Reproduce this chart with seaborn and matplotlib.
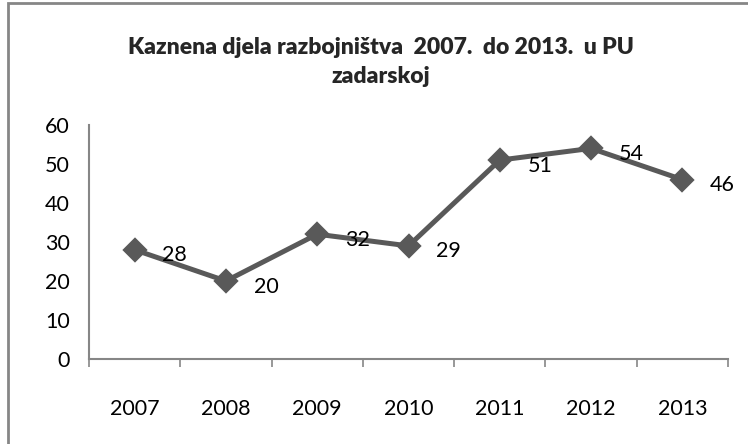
import numpy as np
import pandas as pd
import matplotlib.pyplot as plt
import seaborn as sns
from matplotlib.patches import Rectangle

years = ["2007", "2008", "2009", "2010", "2011", "2012", "2013"]
cases = [28, 20, 32, 29, 51, 54, 46]
title = "Kaznena djela razbojništva  2007.  do 2013.  u PU\nzadarskoj"

df = pd.DataFrame({"year": years, "cases": cases})

sns.set_theme(style="white")
plt.rcParams["font.family"] = ["Lato", "DejaVu Sans"]

fig = plt.figure(figsize=(7.48, 4.44), dpi=100)
ax = fig.add_axes([89 / 748, 1 - 359 / 444, 639 / 748, 234 / 444])

line_col = "#595959"
axis_col = "#868686"

sns.pointplot(data=df, x="year", y="cases", ax=ax, color=line_col,
              markers="D", markersize=10, linewidth=3.6, errorbar=None)

ax.set_xlim(-0.5, len(years) - 0.5)
ax.set_ylim(0, 60)
ax.set_yticks(range(0, 61, 10))
ax.set_xlabel("")
ax.set_ylabel("")

# data labels to the right of each point
for i, v in enumerate(cases):
    ax.annotate(str(v), (i, v), xytext=(20, -4), textcoords="offset points",
                ha="left", va="center", fontsize=15.5, color="black")

# excel-style ticks between categories
ax.set_xticks(np.arange(-0.5, len(years)), minor=True)
ax.tick_params(axis="x", which="major", length=0, pad=29, labelsize=15.5, colors="black")
ax.tick_params(axis="x", which="minor", length=6, width=1.2, color=axis_col, direction="out")
ax.tick_params(axis="y", length=6, width=1.2, color=axis_col, direction="out",
               labelsize=15.5, labelcolor="black", pad=8)
ax.xaxis.set_tick_params(which="minor", bottom=True)

for s in ["top", "right"]:
    ax.spines[s].set_visible(False)
for s in ["left", "bottom"]:
    ax.spines[s].set_color(axis_col)
    ax.spines[s].set_linewidth(1.5)

fig.text(381 / 748, 1 - 62 / 444, title, ha="center", va="center",
         fontsize=16.5, fontweight="heavy", linespacing=1.45)

# chart area border (only left and top visible in the crop)
fig.patches.append(Rectangle((8 / 748, -0.1), 1.2, 1 - 3 / 444 + 0.1,
                             transform=fig.transFigure, fill=False,
                             edgecolor=axis_col, linewidth=2))

fig.savefig("out.png", dpi=100)
